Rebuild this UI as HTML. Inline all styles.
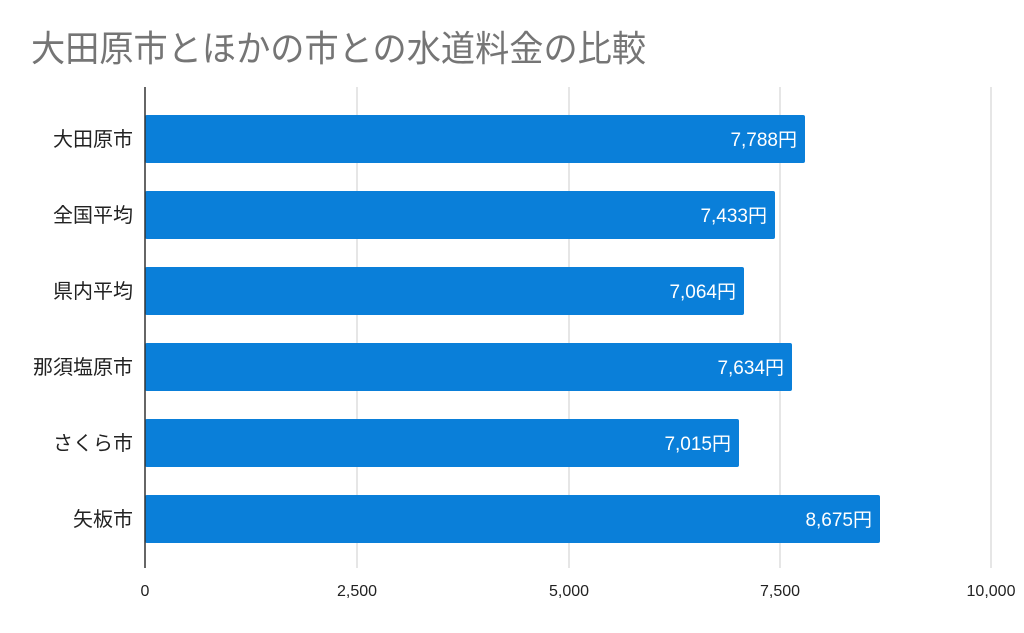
<!DOCTYPE html>
<html><head><meta charset="utf-8"><style>body{margin:0;background:#fff}svg{display:block}</style></head>
<body>
<svg width="1024" height="633" xmlns="http://www.w3.org/2000/svg" font-family="'Liberation Sans','Noto Sans CJK JP',sans-serif">
<text x="31" y="61" font-size="36" fill="#757575" textLength="615" lengthAdjust="spacingAndGlyphs">大田原市とほかの市との水道料金の比較</text>
<g stroke="#cccccc" stroke-width="1">
<line x1="357" y1="87" x2="357" y2="568"/>
<line x1="569" y1="87" x2="569" y2="568"/>
<line x1="780" y1="87" x2="780" y2="568"/>
<line x1="991" y1="87" x2="991" y2="568"/>
</g>
<g fill="#0a7fd9">
<rect x="145" y="115" width="660" height="48" rx="2"/>
<rect x="145" y="191" width="630" height="48" rx="2"/>
<rect x="145" y="267" width="599" height="48" rx="2"/>
<rect x="145" y="343" width="647" height="48" rx="2"/>
<rect x="145" y="419" width="594" height="48" rx="2"/>
<rect x="145" y="495" width="735" height="48" rx="2"/>
</g>
<line x1="145" y1="87" x2="145" y2="568" stroke="#333" stroke-width="1.5"/>
<g font-size="19" fill="#fff" text-anchor="end">
<text x="797" y="146">7,788円</text>
<text x="767" y="222">7,433円</text>
<text x="736" y="298">7,064円</text>
<text x="784" y="374">7,634円</text>
<text x="731" y="450">7,015円</text>
<text x="872" y="526">8,675円</text>
</g>
<g font-size="20" fill="#222" text-anchor="end">
<text x="133" y="146">大田原市</text>
<text x="133" y="222">全国平均</text>
<text x="133" y="298">県内平均</text>
<text x="133" y="374">那須塩原市</text>
<text x="133" y="450">さくら市</text>
<text x="133" y="526">矢板市</text>
</g>
<g font-size="16" fill="#222" text-anchor="middle">
<text x="145" y="596">0</text>
<text x="357" y="596">2,500</text>
<text x="569" y="596">5,000</text>
<text x="780" y="596">7,500</text>
<text x="991" y="596">10,000</text>
</g>
</svg>
</body></html>
